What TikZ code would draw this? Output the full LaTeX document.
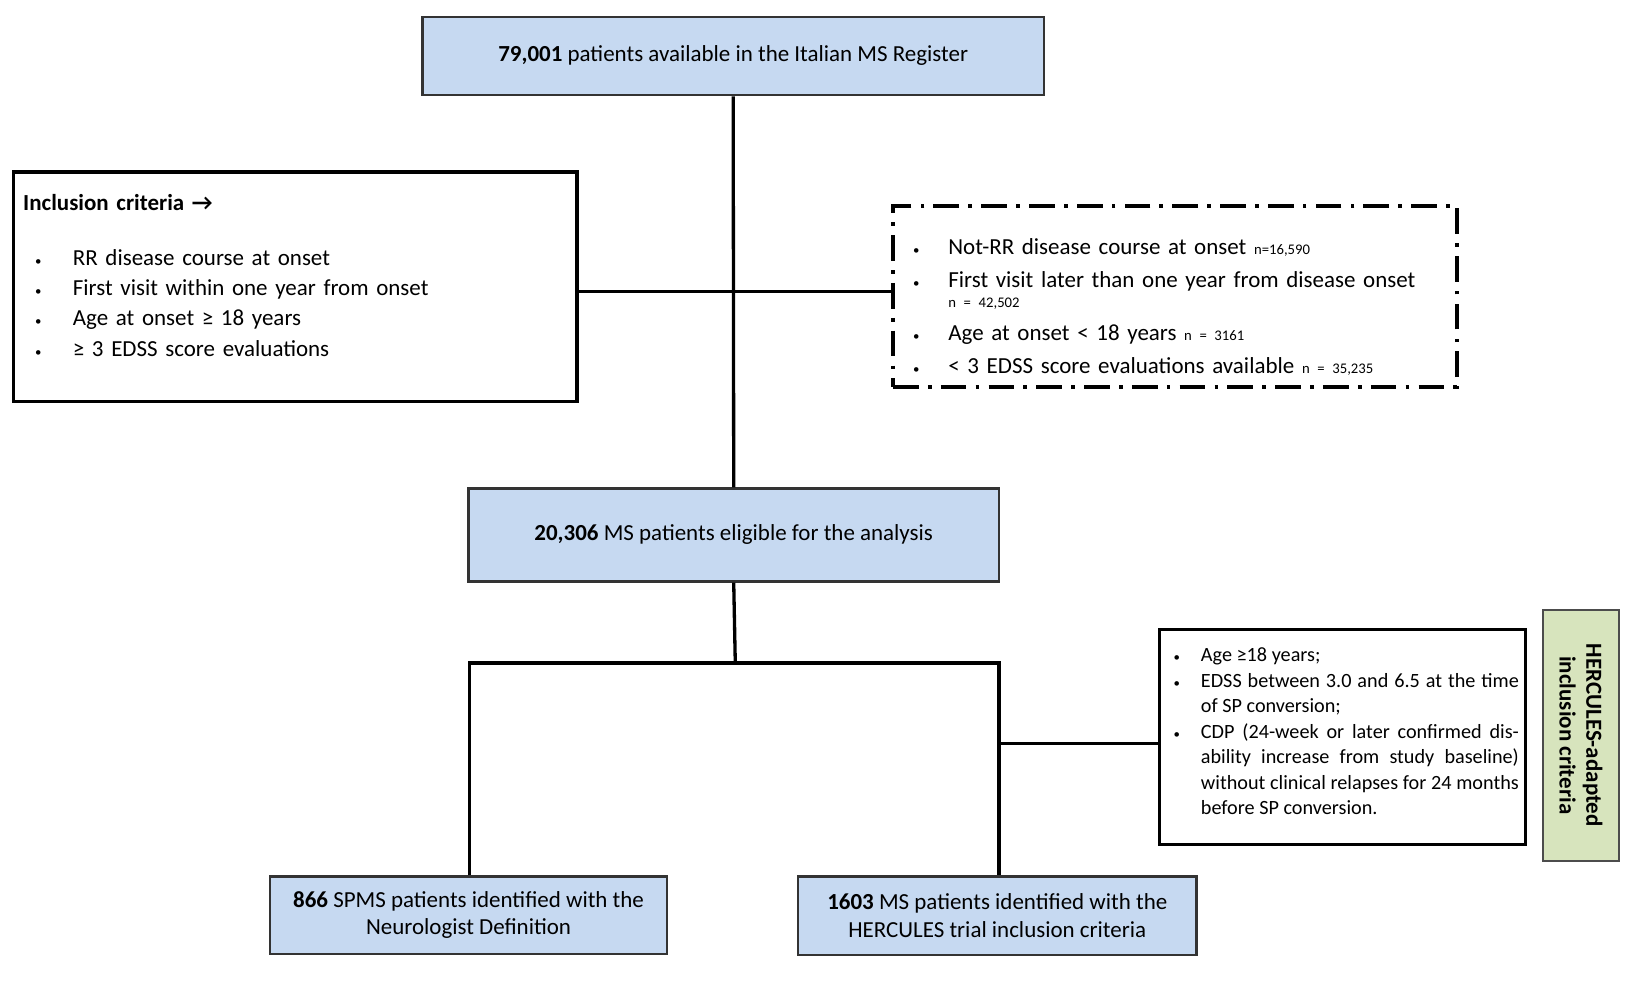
\documentclass[tikz,border=0pt]{standalone}
\usepackage{fontspec}
\setmainfont{Carlito}
\usepackage{enumitem}
\usetikzlibrary{positioning}
\definecolor{boxblue}{HTML}{C6D9F1}
\definecolor{boxgreen}{HTML}{D7E4BD}
\tikzset{
  flow/.style={draw=black!80, line width=1.2pt, fill=boxblue, align=center, font=\fontsize{12.5}{15}\selectfont},
  crit/.style={draw, line width=1.8pt, anchor=north west, inner sep=0pt},
  link/.style={line width=1.8pt}
}
\newcommand{\smalln}[1]{{\fontsize{8}{9}\selectfont #1}}
\begin{document}
\begin{tikzpicture}[x=0.02cm, y=-0.02cm]
\useasboundingbox (0,0) rectangle (1568,937);
% boxes
\node[flow, minimum width=594*0.02cm, minimum height=75*0.02cm] (register) at (701,53.5) {\textbf{79,001} patients available in the Italian MS Register};
\node[flow, minimum width=507*0.02cm, minimum height=89*0.02cm] (eligible) at (701.5,511.5) {\textbf{20,306} MS patients eligible for the analysis};
\node[flow, minimum width=380*0.02cm, minimum height=74*0.02cm] (spms) at (448,875) {\textbf{866} SPMS patients identified with the\\Neurologist Definition};
\node[flow, minimum width=381*0.02cm, minimum height=75*0.02cm] (hercules) at (953.5,875.5) {\textbf{1603} MS patients identified with the\\HERCULES trial inclusion criteria};
\node[crit, minimum width=539*0.02cm, minimum height=219*0.02cm] (inclusion) at (11,163) {};
\node[anchor=north west, text width=500*0.02cm, align=left, font=\fontsize{12.5}{16.5}\selectfont] (inctext) at (16,180) {%
\textbf{Inclusion criteria →}\\[13pt]
\begin{itemize}[leftmargin=0.95cm, labelsep=0.6cm, itemsep=0pt, parsep=0pt, topsep=0pt, label={\scriptsize\textbullet}]
\item RR disease course at onset
\item First visit within one year from onset
\item Age at onset ≥ 18 years
\item ≥ 3 EDSS score evaluations
\end{itemize}};
\node[crit, dash pattern=on 14pt off 5pt on 2pt off 5pt, line width=2pt, minimum width=539*0.02cm, minimum height=173*0.02cm] (exclusion) at (852,195) {};
\node[anchor=north west, text width=500*0.02cm, align=left, font=\fontsize{12.5}{13}\selectfont] (exctext) at (858,214) {%
\begin{itemize}[leftmargin=0.85cm, labelsep=0.55cm, itemsep=5pt, parsep=0pt, topsep=0pt, label={\scriptsize\textbullet}]
\item Not-RR disease course at onset \smalln{n=16,590}
\item First visit later than one year from disease onset\\[-2pt]\smalln{n = 42,502}
\item Age at onset < 18 years \smalln{n = 3161}
\item < 3 EDSS score evaluations available \smalln{n = 35,235}
\end{itemize}};
\node[crit, minimum width=350*0.02cm, minimum height=206*0.02cm] (herccrit) at (1107,600) {};
\node[anchor=north west, text width=334*0.02cm, align=justify, font=\fontsize{11}{13.9}\selectfont] (herctext) at (1112,602) {%
\begin{itemize}[leftmargin=0.6cm, labelsep=0.4cm, itemsep=0pt, parsep=0pt, topsep=0pt, label={\scriptsize\textbullet}]
\item Age ≥18 years;
\item EDSS between 3.0 and 6.5 at the time of SP conversion;
\item CDP (24-week or later confirmed disability increase from study baseline) without clinical relapses for 24 months before SP conversion.
\end{itemize}};
\node[draw=black!70, line width=1pt, fill=boxgreen, minimum width=240*0.02cm, minimum height=73*0.02cm, rotate=-90, align=center, font=\bfseries\fontsize{12.5}{14.5}\selectfont] (label) at (1511.5,703) {HERCULES-adapted\\inclusion criteria};
% connectors
\coordinate (incjoin) at (703,279);
\coordinate (split) at (703,634);
\coordinate (splitL) at (449,634);
\coordinate (splitR) at (955,634);
\coordinate (hercjoin) at (955,711);
\draw[link] (register.south) -- (eligible.north);
\draw[link] (inclusion.east |- incjoin) -- (exclusion.west |- incjoin);
\draw[link] (eligible.south) -- (split);
\draw[link] (spms.north -| splitL) -- (splitL) -- (splitR) -- (hercules.north -| splitR);
\draw[link] (hercjoin) -- (herccrit.west |- hercjoin);
\end{tikzpicture}
\end{document}
